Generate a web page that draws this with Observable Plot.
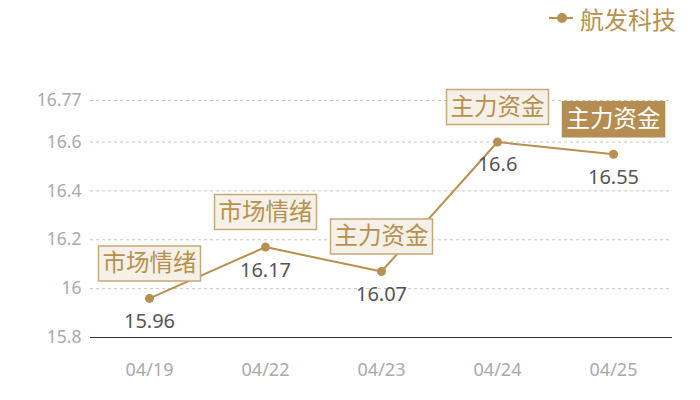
<!DOCTYPE html>
<html>
<head>
<meta charset="utf-8">
<script src="https://cdn.jsdelivr.net/npm/d3@7"></script>
<script src="https://cdn.jsdelivr.net/npm/@observablehq/plot@0.6"></script>
<style>
  body { margin: 0; background: #fff; font-family: "Noto Sans CJK SC", "Noto Sans", sans-serif; }
  #legend { height: 36px; display: flex; justify-content: flex-end; align-items: center; padding-right: 24px; color: #b8904f; font-size: 24px; }
  #legend svg { margin-right: 6px; }
</style>
</head>
<body>
<div id="legend"></div>
<div id="chart"></div>
<script>
const seriesName = "航发科技";
const dates = ["04/19", "04/22", "04/23", "04/24", "04/25"];
const values = [15.96, 16.17, 16.07, 16.6, 16.55];
const tags = ["市场情绪", "市场情绪", "主力资金", "主力资金", "主力资金"];
const highlighted = [false, false, false, false, true];
const yTicks = [15.8, 16, 16.2, 16.4, 16.6, 16.77];

const data = dates.map((d, i) => ({date: d, value: values[i], tag: tags[i], hl: highlighted[i]}));

const lineColor = "#b8904f";

const boxSymbol = {
  draw(ctx, size) {
    const w = 102, h = 35;
    ctx.moveTo(-w / 2, -h / 2);
    ctx.lineTo(w / 2, -h / 2);
    ctx.lineTo(w / 2, h / 2);
    ctx.lineTo(-w / 2, h / 2);
    ctx.closePath();
  }
};

document.getElementById("legend").innerHTML =
  `<svg width="26" height="12"><line x1="1" x2="25" y1="6" y2="6" stroke="${lineColor}" stroke-width="2"/><circle cx="14" cy="6" r="5" fill="${lineColor}"/></svg><span>${seriesName}</span>`;

const chart = Plot.plot({
  width: 700,
  height: 364,
  marginLeft: 90,
  marginRight: 28,
  marginTop: 64,
  marginBottom: 63,
  style: {fontFamily: "'Noto Sans', 'Noto Sans CJK SC', sans-serif", background: "#fff"},
  x: {type: "point", domain: dates, padding: 0.5, label: null},
  y: {domain: [15.8, 16.77], label: null},
  marks: [
    Plot.gridY(yTicks.filter(t => t !== 15.8), {stroke: "#c8c8c8", strokeOpacity: 1, strokeDasharray: "3,3"}),
    Plot.ruleY([15.8], {stroke: "#333", strokeWidth: 1}),
    Plot.axisY(yTicks, {tickSize: 0, tickPadding: 9, fontSize: 17.5, fill: "#aaaaaa", tickFormat: d => String(d)}),
    Plot.axisX({tickSize: 0, tickPadding: 26, fontSize: 18, fill: "#aaaaaa"}),
    Plot.line(data, {x: "date", y: "value", stroke: lineColor, strokeWidth: 2}),
    Plot.dot(data, {x: "date", y: "value", r: 4.5, fill: lineColor}),
    Plot.text(data, {x: "date", y: "value", text: d => String(d.value), dy: 23, fontSize: 20, fill: "#555"}),
    Plot.dot(data, {x: "date", y: "value", dy: -35, symbol: boxSymbol, r: 10,
      fill: d => d.hl ? "#b58d50" : "#f5f0e8", stroke: d => d.hl ? "#b58d50" : "#c9a878", strokeWidth: 1.5}),
    Plot.text(data, {x: "date", y: "value", text: "tag", dy: -35, fontSize: 23.5,
      fontFamily: "Noto Sans CJK SC", fill: d => d.hl ? "#ffffff" : "#b8904f"})
  ]
});
document.getElementById("chart").appendChild(chart);
</script>
</body>
</html>
